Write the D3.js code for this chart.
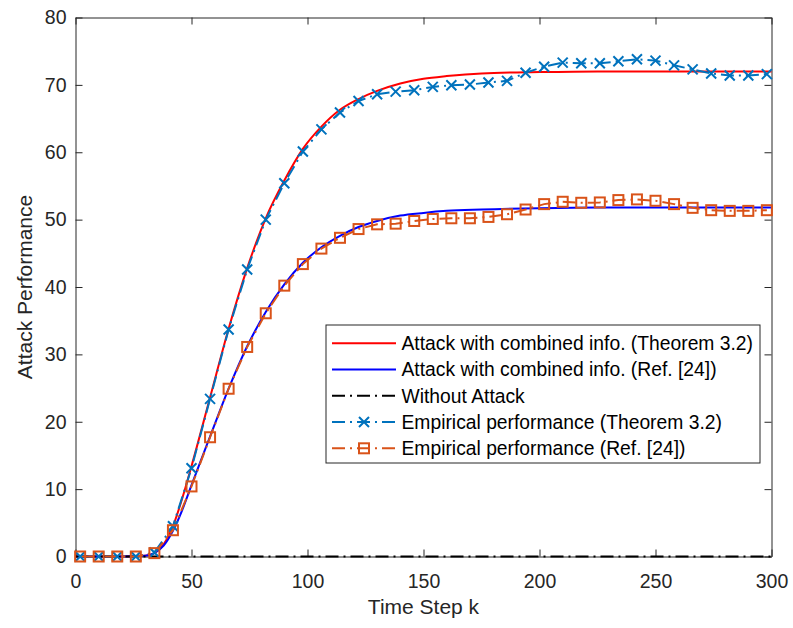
<!DOCTYPE html>
<html>
<head>
<meta charset="utf-8">
<script src="https://cdn.jsdelivr.net/npm/d3@7"></script>
<style>
  body { margin: 0; background: #fff; }
  text { font-family: "Liberation Sans", Arial, sans-serif; fill: #262626; }
</style>
</head>
<body>
<div id="chart"></div>
<script>
// ---- data ----
let kTheory = [0, 10, 20, 30, 34, 38, 42, 46, 50, 58, 66, 74, 82, 90, 98, 106, 114, 122, 130, 140, 150, 160, 175, 200, 225, 250, 275, 300];
let theoremCurve = [0, 0, 0, 0.1, 0.5, 1.8, 4.5, 8.6, 13.4, 23.6, 33.8, 42.8, 50.2, 55.8, 60.5, 63.8, 66.3, 67.9, 69.1, 70.2, 70.9, 71.3, 71.7, 71.9, 72.0, 72.0, 72.0, 72.0];
let refCurve = [0, 0, 0, 0.1, 0.5, 1.6, 3.8, 6.9, 10.6, 17.8, 24.9, 31.2, 36.3, 40.4, 43.6, 45.9, 47.6, 48.9, 49.8, 50.6, 51.0, 51.3, 51.5, 51.7, 51.8, 51.8, 51.8, 51.8];

let kNoAttack = [0, 300];
let noAttack = [0, 0];

let kEmp = [2, 10, 18, 26, 34, 42, 50, 58, 66, 74, 82, 90, 98, 106, 114, 122, 130, 138, 146, 154, 162, 170, 178, 186, 194, 202, 210, 218, 226, 234, 242, 250, 258, 266, 274, 282, 290, 298];
let theoremEmp = [0, 0, 0, 0, 0.6, 4.5, 13.1, 23.4, 33.7, 42.6, 50.0, 55.4, 60.1, 63.4, 65.9, 67.6, 68.6, 69.0, 69.2, 69.7, 69.95, 70.05, 70.35, 70.6, 71.8, 72.7, 73.3, 73.2, 73.2, 73.5, 73.8, 73.6, 72.9, 72.3, 71.7, 71.4, 71.4, 71.6];
let refEmp = [0, 0, 0, 0, 0.5, 3.9, 10.4, 17.7, 24.9, 31.1, 36.1, 40.2, 43.4, 45.7, 47.3, 48.6, 49.3, 49.4, 49.8, 50.1, 50.2, 50.2, 50.4, 50.8, 51.5, 52.3, 52.65, 52.5, 52.55, 52.9, 53.0, 52.8, 52.3, 51.75, 51.4, 51.3, 51.3, 51.4];

let xTicks = [0, 50, 100, 150, 200, 250, 300];
let yTicks = [0, 10, 20, 30, 40, 50, 60, 70, 80];

let legendLabels = [
  "Attack with combined info. (Theorem 3.2)",
  "Attack with combined info. (Ref. [24])",
  "Without Attack",
  "Empirical performance (Theorem 3.2)",
  "Empirical performance (Ref. [24])"
];

// ---- layout ----
let width = 793, height = 628;
let plotLeft = 75.5, plotRight = 771.5, plotTop = 17.5, plotBottom = 556.5;
let axisColor = "#262626";
let dashDot = "13,5,2,5";

let svg = d3.select("#chart").append("svg")
  .attr("width", width)
  .attr("height", height);

let x = d3.scaleLinear().domain([0, 300]).range([plotLeft, plotRight]);
let y = d3.scaleLinear().domain([0, 80]).range([plotBottom, plotTop]);

// axes (ticks pointing inward like matlab)
svg.append("g").attr("transform", `translate(0,${plotBottom})`)
  .call(d3.axisBottom(x).tickValues(xTicks).tickSizeInner(-7).tickSizeOuter(0).tickPadding(18))
  .call(g => g.selectAll("text").style("font-size", "19.5px"));
svg.append("g").attr("transform", `translate(0,${plotTop})`)
  .call(d3.axisTop(x).tickValues(xTicks).tickFormat("").tickSizeInner(-7).tickSizeOuter(0));
svg.append("g").attr("transform", `translate(${plotLeft},0)`)
  .call(d3.axisLeft(y).tickValues(yTicks).tickSizeInner(-7).tickSizeOuter(0).tickPadding(9))
  .call(g => g.selectAll("text").style("font-size", "19.5px"));
svg.append("g").attr("transform", `translate(${plotRight},0)`)
  .call(d3.axisRight(y).tickValues(yTicks).tickFormat("").tickSizeInner(-7).tickSizeOuter(0));

svg.selectAll(".domain").attr("stroke", axisColor);
svg.selectAll(".tick line").attr("stroke", axisColor);
svg.selectAll(".tick text").attr("fill", axisColor).style("font-family", "Liberation Sans, Arial, sans-serif");

// axis labels
svg.append("text")
  .attr("x", (plotLeft + plotRight) / 2).attr("y", 614)
  .attr("text-anchor", "middle")
  .style("font-size", "21px")
  .text("Time Step k");
svg.append("text")
  .attr("transform", `translate(32,${(plotTop + plotBottom) / 2}) rotate(-90)`)
  .attr("text-anchor", "middle")
  .style("font-size", "21px")
  .text("Attack Performance");

// lines
let curveLine = function(ks) {
  return d3.line().x((d, i) => x(ks[i])).y(d => y(d)).curve(d3.curveMonotoneX);
};
let straightLine = function(ks) {
  return d3.line().x((d, i) => x(ks[i])).y(d => y(d));
};

let plot = svg.append("g");

plot.append("path").datum(theoremCurve)
  .attr("d", curveLine(kTheory))
  .attr("fill", "none").attr("stroke", "#ff0000").attr("stroke-width", 2);
plot.append("path").datum(refCurve)
  .attr("d", curveLine(kTheory))
  .attr("fill", "none").attr("stroke", "#0000ff").attr("stroke-width", 2);
plot.append("path").datum(noAttack)
  .attr("d", straightLine(kNoAttack))
  .attr("fill", "none").attr("stroke", "#000").attr("stroke-width", 2)
  .attr("stroke-dasharray", dashDot);

let blueEmp = "#0072BD", orangeEmp = "#D95319";

plot.append("path").datum(theoremEmp)
  .attr("d", straightLine(kEmp))
  .attr("fill", "none").attr("stroke", blueEmp).attr("stroke-width", 2)
  .attr("stroke-dasharray", dashDot);
plot.append("path").datum(refEmp)
  .attr("d", straightLine(kEmp))
  .attr("fill", "none").attr("stroke", orangeEmp).attr("stroke-width", 2)
  .attr("stroke-dasharray", dashDot);

// markers
let crossPath = "M-5,-5L5,5M-5,5L5,-5";
plot.append("g").selectAll("path").data(theoremEmp).enter().append("path")
  .attr("transform", (d, i) => `translate(${x(kEmp[i])},${y(d)})`)
  .attr("d", crossPath)
  .attr("stroke", blueEmp).attr("stroke-width", 2).attr("fill", "none");
plot.append("g").selectAll("rect").data(refEmp).enter().append("rect")
  .attr("x", (d, i) => x(kEmp[i]) - 5)
  .attr("y", d => y(d) - 5)
  .attr("width", 10).attr("height", 10)
  .attr("stroke", orangeEmp).attr("stroke-width", 2).attr("fill", "none");

// legend
let lg = svg.append("g");
lg.append("rect")
  .attr("x", 326).attr("y", 325)
  .attr("width", 434).attr("height", 138)
  .attr("fill", "#fff").attr("stroke", axisColor).attr("stroke-width", 1);

let legendStyles = [
  { color: "#ff0000", dash: null, marker: null },
  { color: "#0000ff", dash: null, marker: null },
  { color: "#000", dash: dashDot, marker: null },
  { color: blueEmp, dash: dashDot, marker: "x" },
  { color: orangeEmp, dash: dashDot, marker: "s" }
];
let rowY = d3.scaleLinear().domain([0, 4]).range([343.3, 448.3]);

legendLabels.forEach(function(label, i) {
  let s = legendStyles[i];
  let cy = rowY(i);
  lg.append("line")
    .attr("x1", 332).attr("x2", 396).attr("y1", cy).attr("y2", cy)
    .attr("stroke", s.color).attr("stroke-width", 2)
    .attr("stroke-dasharray", s.dash);
  if (s.marker === "x") {
    lg.append("path").attr("transform", `translate(364,${cy})`)
      .attr("d", crossPath).attr("stroke", s.color).attr("stroke-width", 2).attr("fill", "none");
  } else if (s.marker === "s") {
    lg.append("rect").attr("x", 359).attr("y", cy - 5).attr("width", 10).attr("height", 10)
      .attr("stroke", s.color).attr("stroke-width", 2).attr("fill", "none");
  }
  lg.append("text")
    .attr("x", 401.5).attr("y", cy).attr("dy", "0.35em")
    .style("font-size", "19.3px")
    .style("fill", "#000")
    .text(label);
});
</script>
</body>
</html>
